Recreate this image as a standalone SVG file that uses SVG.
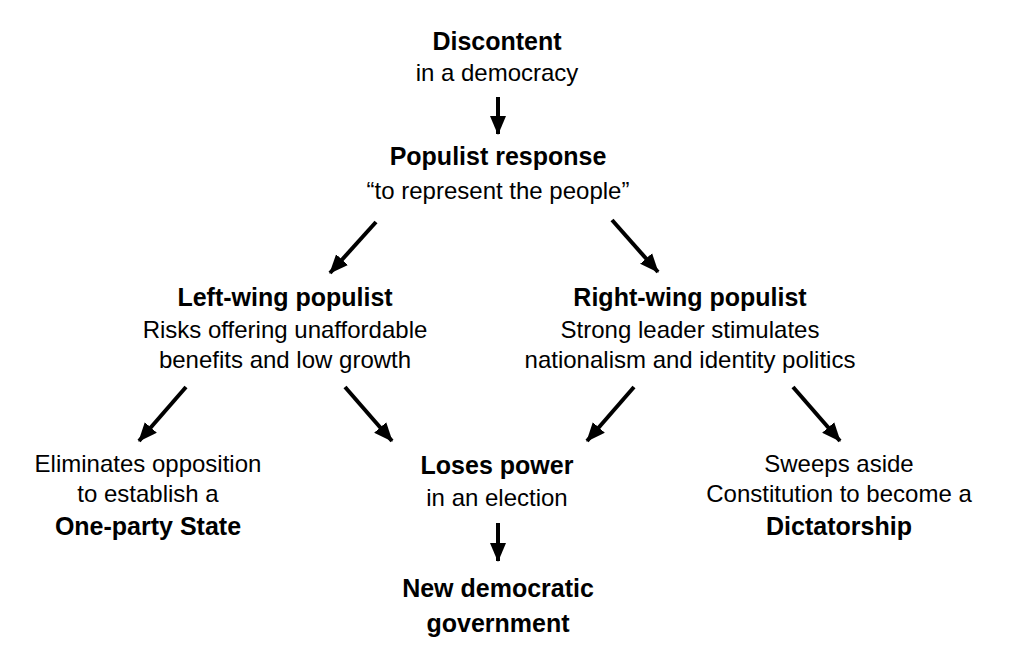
<svg xmlns="http://www.w3.org/2000/svg" width="1015" height="662" viewBox="0 0 1015 662">
<style>
text{font-family:"Liberation Sans",Arial,sans-serif;font-size:24px;fill:#000;text-anchor:middle}
.b{font-weight:bold;font-size:25px}
.c line{stroke:#000;stroke-width:4;marker-end:url(#ah)}
</style>
<defs>
<marker id="ah" markerUnits="userSpaceOnUse" markerWidth="20" markerHeight="20" viewBox="0 0 20 20" refX="18" refY="10" orient="auto">
<path d="M0,2 L19,10 L0,18 Z" fill="#000"/>
</marker>
</defs>
<rect width="1015" height="662" fill="#fff"/>
<g id="n1"><text class="b" x="497" y="50">Discontent</text><text x="497" y="81">in a democracy</text></g>
<g id="n2"><text class="b" x="498" y="165">Populist response</text><text x="498" y="199">“to represent the people”</text></g>
<g id="n3"><text class="b" x="285" y="306">Left-wing populist</text><text x="285" y="338">Risks offering unaffordable</text><text x="285" y="368">benefits and low growth</text></g>
<g id="n4"><text class="b" x="690" y="306">Right-wing populist</text><text x="690" y="338">Strong leader stimulates</text><text x="690" y="368">nationalism and identity politics</text></g>
<g id="n5"><text x="148" y="472">Eliminates opposition</text><text x="148" y="502">to establish a</text><text class="b" x="148" y="535">One-party State</text></g>
<g id="n6"><text class="b" x="497" y="474">Loses power</text><text x="497" y="506">in an election</text></g>
<g id="n7"><text x="839" y="472">Sweeps aside</text><text x="839" y="502">Constitution to become a</text><text class="b" x="839" y="535">Dictatorship</text></g>
<g id="n8"><text class="b" x="498" y="597">New democratic</text><text class="b" x="498" y="632">government</text></g>
<g class="c" id="connectors">
<line x1="498" y1="97" x2="498" y2="134"/>
<line x1="376" y1="222" x2="330" y2="273"/>
<line x1="612" y1="220" x2="658" y2="272"/>
<line x1="186" y1="387" x2="139" y2="441"/>
<line x1="345" y1="387" x2="392" y2="441"/>
<line x1="634" y1="387" x2="587" y2="441"/>
<line x1="793" y1="387" x2="840" y2="441"/>
<line x1="498" y1="523" x2="498" y2="561"/>
</g>
</svg>
